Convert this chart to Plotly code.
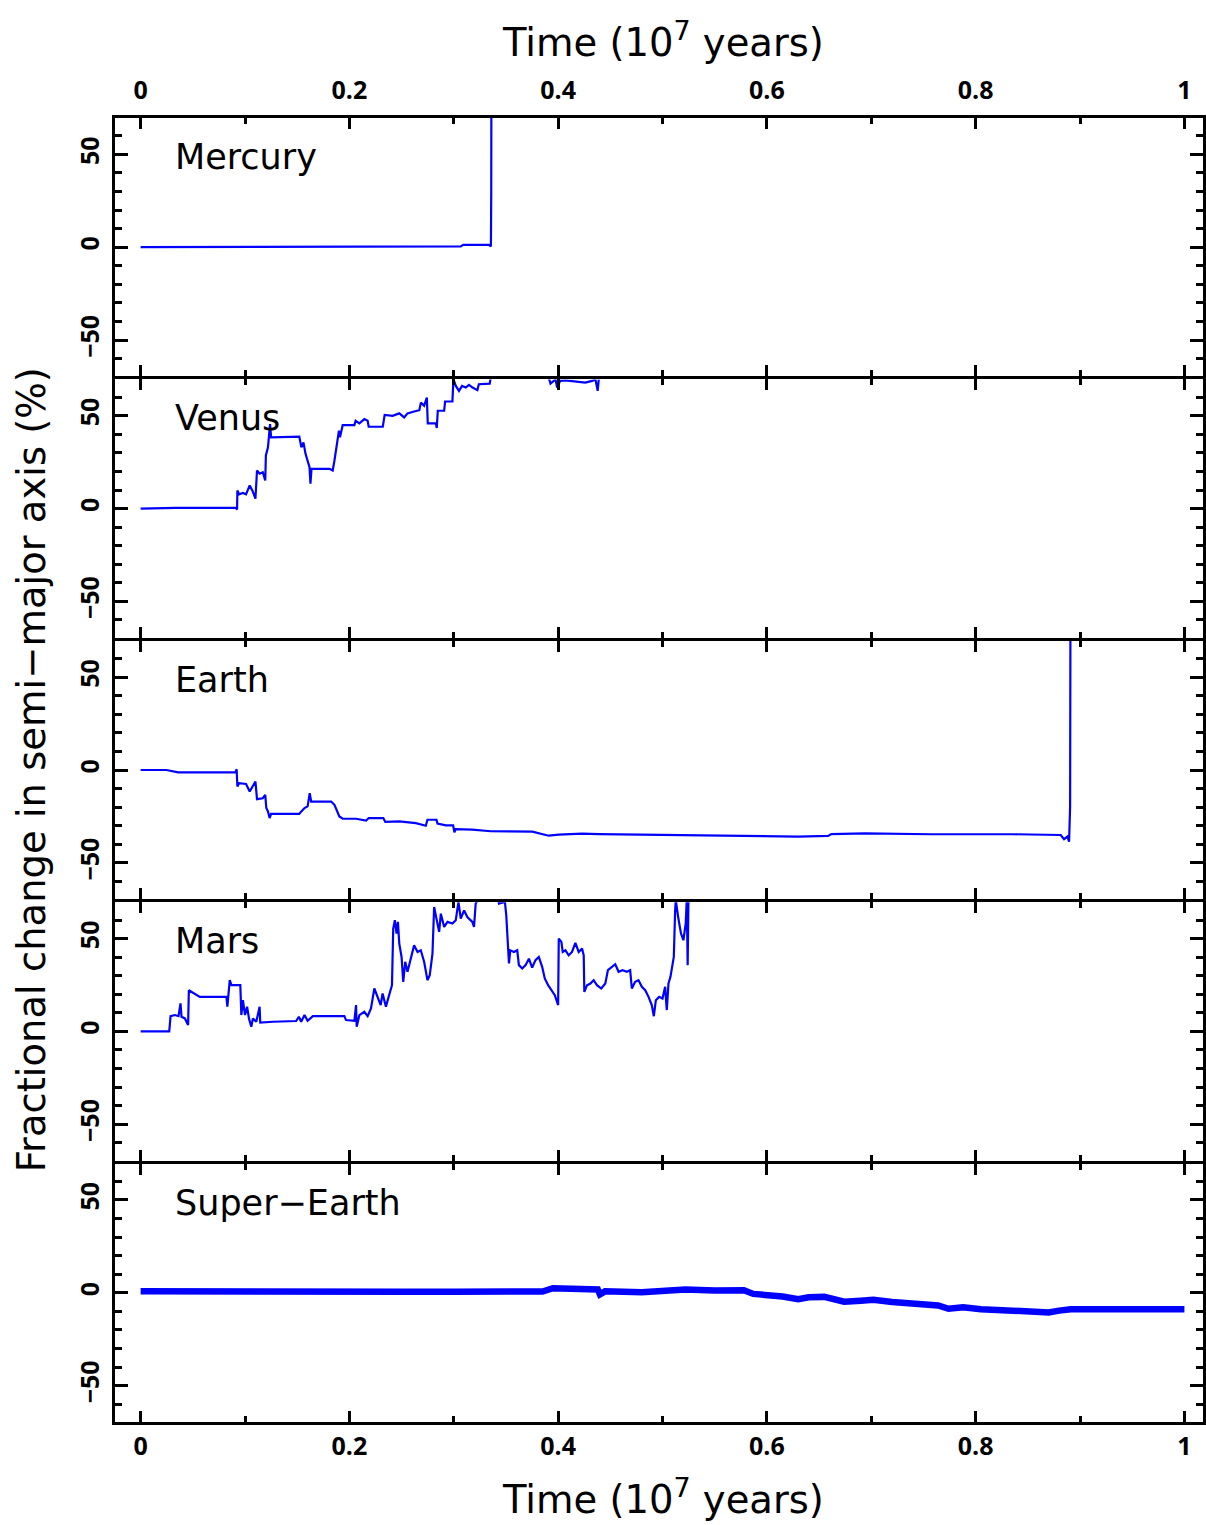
import plotly.graph_objects as go

# ---------------- data (time in 1e7 yr, change in %) ----------------
mercury_t = [0, 0.184, 0.305, 0.3067, 0.309, 0.3338, 0.3354, 0.3356, 0.3359, 0.3362]
mercury_a = [0, 0, 0.4, 0.4, 1.25, 1.25, 0.4, 1.25, 30, 150]

venus_t = [0, 0.034, 0.091, 0.0924, 0.0927, 0.0943, 0.098, 0.101, 0.1045, 0.107, 0.110,
           0.1115, 0.114, 0.117, 0.1194, 0.120, 0.122, 0.123, 0.124, 0.125, 0.1395, 0.152,
           0.154, 0.156, 0.158, 0.160, 0.1618, 0.1627, 0.1637, 0.181, 0.184, 0.1857, 0.188,
           0.190, 0.191, 0.1936, 0.2048, 0.206, 0.2096, 0.2143, 0.2175, 0.2185, 0.232,
           0.2338, 0.2414, 0.2478, 0.2525, 0.2557, 0.262, 0.267, 0.2685, 0.2716, 0.2742,
           0.2751, 0.2828, 0.2837, 0.2847, 0.2908, 0.2917, 0.2987, 0.2997, 0.302, 0.305,
           0.308, 0.3115, 0.3146, 0.318, 0.3226, 0.324, 0.3344, 0.3354, 0.34, 0.38, 0.3885,
           0.3927, 0.3975, 0.399, 0.402, 0.407, 0.4134, 0.4197, 0.426, 0.4325, 0.4357,
           0.4379, 0.4389]
venus_a = [0, 0.4, 0.4, -0.5, 9.8, 7.7, 8.4, 7.7, 12.5, 9.8, 5.4,
           20.5, 18.8, 19.6, 15.2, 28.6, 33, 39.3, 45.5, 38.4, 38.4, 38.8,
           33, 35.7, 29.5, 25.9, 22.3, 13.4, 21.4, 21.4, 20.5, 25.9, 35.7,
           42, 38.4, 45, 45, 47.3, 45.9, 48.2, 47.3, 44.1, 44.1,
           50.5, 50, 51.3, 49.1, 51.3, 52.3, 53, 57.1, 55.4, 59.8,
           45.9, 45.9, 43.4, 52.7, 52.7, 57.7, 57.7, 69.6, 66.1, 63.4,
           66.1, 65.2, 66.6, 65.2, 63.8, 67, 67.3, 70.5, 80, 85, 75,
           67.3, 69.6, 65.2, 68.8, 69.1, 68.8, 68.4, 67.9, 68.8, 69.6,
           63.4, 69.6]

earth_t = [0, 0.0248, 0.036, 0.091, 0.092, 0.0927, 0.0943, 0.101, 0.1045, 0.1076, 0.110,
           0.1115, 0.117, 0.1194, 0.1204, 0.122, 0.1236, 0.125, 0.1395, 0.152, 0.154, 0.157,
           0.160, 0.162, 0.1634, 0.1825, 0.1857, 0.188, 0.1904, 0.1936, 0.2064, 0.216,
           0.2185, 0.2325, 0.2344, 0.2478, 0.2637, 0.2732, 0.2748, 0.2834, 0.2844, 0.2924,
           0.2994, 0.3006, 0.3019, 0.3178, 0.3354, 0.3752, 0.391, 0.4006, 0.423, 0.4389,
           0.630, 0.6586, 0.6618, 0.6936, 0.7573, 0.836, 0.8815, 0.8847, 0.8879, 0.8895,
           0.8905, 0.891]
earth_a = [0, 0, -1.25, -1.1, 0.4, -8.9, -7.1, -7.5, -11.6, -8.9, -6.25,
           -15.7, -15.2, -13.4, -20.5, -22.3, -25.9, -23.6, -23.6, -23.6, -22.3, -20.5,
           -19.6, -12.5, -17, -17, -18.75, -22.3, -25, -26.25, -26.25, -27.3,
           -25.9, -25.9, -27.9, -27.7, -28.6, -30, -26.8, -26.8, -28.9, -29.8,
           -29.8, -33.6, -31.8, -32.1, -33, -33.2, -35.4, -34.8, -34.3, -34.5,
           -35.9, -35.5, -34.5, -34.1, -34.6, -34.6, -35, -37.3, -35.9, -38.6,
           -19.7, 150]

mars_t = [0, 0.0274, 0.0287, 0.0328, 0.0363, 0.0382, 0.0392, 0.0424, 0.0455, 0.0462, 0.0567,
          0.0822, 0.0831, 0.0841, 0.0854, 0.087, 0.0955, 0.0965, 0.098, 0.100, 0.102, 0.1038,
          0.106, 0.1076, 0.1108, 0.114, 0.1146, 0.1268, 0.149, 0.1516, 0.1538, 0.157, 0.160,
          0.165, 0.1952, 0.1968, 0.2048, 0.2064, 0.207, 0.2096, 0.2143, 0.2175, 0.2207,
          0.2239, 0.227, 0.230, 0.2318, 0.235, 0.2376, 0.2408, 0.242, 0.2436, 0.2452, 0.2465,
          0.2478, 0.25, 0.2516, 0.2535, 0.2557, 0.2589, 0.262, 0.2653, 0.2684, 0.2716, 0.2748,
          0.277, 0.2796, 0.2812, 0.2834, 0.286, 0.2876, 0.2908, 0.294, 0.2987, 0.3019, 0.3045,
          0.3067, 0.3099, 0.313, 0.3178, 0.3194, 0.321, 0.3226, 0.33, 0.338, 0.3415, 0.3433,
          0.349, 0.3503, 0.3516, 0.3529, 0.3541, 0.3576, 0.3608, 0.3624, 0.3656, 0.3688, 0.372,
          0.3751, 0.3783, 0.3815, 0.3847, 0.3872, 0.3904, 0.3936, 0.3968, 0.4, 0.4006, 0.4031,
          0.4044, 0.4070, 0.4101, 0.4133, 0.4165, 0.4197, 0.4229, 0.4245, 0.4251, 0.4277,
          0.4309, 0.434, 0.4372, 0.4413, 0.4452, 0.4477, 0.4515, 0.4547, 0.4579, 0.4617,
          0.4659, 0.469, 0.4706, 0.4738, 0.477, 0.4802, 0.4834, 0.4866, 0.4897, 0.4917,
          0.4936, 0.4968, 0.5, 0.5025, 0.5041, 0.5057, 0.5076, 0.5095, 0.5108, 0.5121, 0.5127,
          0.5152, 0.5177, 0.52, 0.5222, 0.5232, 0.5241, 0.5248, 0.525]
mars_a = [0, 0, 8.2, 8.8, 8.2, 15.1, 7.9, 7, 3.4, 22.2, 18.6,
          18.6, 13.3, 22.2, 27.6, 24.9, 24.9, 8.8, 16.8, 8.8, 13.3, 7,
          2.5, 7, 5.2, 13.3, 4.7, 5.2, 5.6, 7.9, 5.2, 8.8, 5.7,
          8.2, 8.2, 6.1, 5.7, 14.2, 2.5, 8.8, 10.6, 8.2, 12.4,
          23.1, 18.6, 14.2, 20.4, 13.3, 18.6, 24.9, 55.4, 59.9, 52.7, 59,
          47.3, 40.1, 26.7, 37.5, 32.1, 40.1, 46.4, 42.8, 43.7, 37.5, 27.6,
          30.3, 41.9, 67, 61.6, 53.6, 63.4, 56.3, 59, 58.1, 59.9, 69.7,
          60.8, 65.2, 61.6, 59, 56.3, 68.8, 70.6, 80, 82, 75, 68.8,
          69.7, 62.5, 47.3, 36.6, 43.7, 42.8, 43.7, 35.7, 33.9, 35.7, 39.2,
          34.4, 38.4, 40.1, 34.8, 28.5, 24.9, 22.2, 19.5, 14.2, 50, 48.2,
          42.8, 43.7, 41, 42.8, 47.7, 42.8, 44.6, 41, 21.3, 24.9,
          25.8, 27.6, 24.9, 23.1, 25.8, 33, 34.8, 36.2, 32.1, 33,
          32.1, 33, 23.1, 26.7, 27.6, 24, 22.2, 18.6, 14.2, 8.2,
          16.8, 18.6, 17.7, 24, 11.5, 25.8, 29.4, 36.6, 40.1, 65.2, 70.6,
          60.8, 52.7, 49.1, 58.1, 70.6, 35.7, 70.6, 150]

superearth_t = [0, 0.05, 0.1, 0.15, 0.2, 0.25, 0.3, 0.35, 0.385, 0.395, 0.41, 0.43, 0.438,
                0.44, 0.445, 0.48, 0.5, 0.522, 0.55, 0.578, 0.587, 0.6, 0.615, 0.63, 0.64,
                0.655, 0.674, 0.69, 0.702, 0.72, 0.736, 0.75, 0.764, 0.774, 0.788, 0.805,
                0.822, 0.84, 0.856, 0.87, 0.88, 0.891, 0.92, 0.95, 0.98, 1.0]
superearth_a = [0.8, 0.6, 0.8, 0.5, 0.7, 0.6, 0.6, 0.4, 0.7, 2.5, 2.3, 2.0, 1.8,
                -0.8, 0.8, 0.3, 0.6, 1.8, 1.2, 1.4, -0.6, -1.2, -2.0, -3.5, -2.4,
                -2.2, -4.8, -4.3, -3.8, -4.9, -5.5, -6.0, -6.8, -8.6, -7.8, -8.8,
                -9.2, -9.8, -10.1, -10.6, -9.6, -8.9, -8.8, -8.9, -8.8, -8.9]

panel_names = ["Mercury", "Venus", "Earth", "Mars", "Super\u2212Earth"]
series_t = [mercury_t, venus_t, earth_t, mars_t, superearth_t]
series_a = [mercury_a, venus_a, earth_a, mars_a, superearth_a]
line_widths = [2.2, 2.2, 2.2, 2.2, 6.5]

x_range = [-0.02455, 1.0178]
y_range = [-69.6, 69.6]
x_title = "Time (10<sup>7</sup> years)"
y_title = "Fractional change in semi\u2212major axis (%)"

TXT_FONT = "DejaVu Sans"
TICK_FONT = "Open Sans"
BLUE = "#0000ff"
LW = 3

W, H = 1206, 1525
M_L, M_R, M_T, M_B = 115, 0, 118, 103
plot_h = H - M_T - M_B
plot_w = W - M_L - M_R

fig = go.Figure()
n = len(panel_names)
for i in range(n):
    k = "" if i == 0 else str(i + 1)
    fig.add_trace(go.Scatter(x=series_t[i], y=series_a[i], mode="lines",
                             line=dict(color=BLUE, width=line_widths[i]),
                             xaxis="x" + k, yaxis="y" + k, showlegend=False))

gap = LW / plot_h
ph = (1 - (n - 1) * gap) / n

layout = dict(width=W, height=H, paper_bgcolor="white", plot_bgcolor="white",
              margin=dict(l=M_L, r=M_R, t=M_T, b=M_B, pad=0), showlegend=False,
              font=dict(family=TXT_FONT, color="black"))
tickfont = dict(family=TICK_FONT, size=25, weight="bold", color="black")
for i in range(n):
    k = "" if i == 0 else str(i + 1)
    top = 1 - i * (ph + gap)
    bot = max(0, top - ph)
    xa = dict(domain=[0, 1], anchor="y" + k, range=x_range, tick0=0, dtick=0.2,
              ticks="inside", ticklen=11, tickwidth=2.5, tickcolor="black",
              minor=dict(ticks="inside", dtick=0.1, ticklen=6, tickwidth=2.5, tickcolor="black"),
              showline=True, linewidth=LW, linecolor="black", mirror="ticks",
              showgrid=False, zeroline=False, tickfont=tickfont,
              showticklabels=(i == 0 or i == n - 1))
    if i == 0:
        xa.update(side="top", ticklabelstandoff=6)
    if i == n - 1:
        xa.update(side="bottom")
    ya = dict(domain=[bot, top], anchor="x" + k, range=y_range, tick0=0, dtick=50,
              ticks="inside", ticklen=13, tickwidth=2.5, tickcolor="black",
              minor=dict(ticks="inside", dtick=10, ticklen=7, tickwidth=2.5, tickcolor="black"),
              showline=True, linewidth=LW, linecolor="black", mirror="ticks",
              showgrid=False, zeroline=False, tickangle=-90, ticklabelstandoff=3,
              tickfont=tickfont)
    layout["xaxis" + k] = xa
    layout["yaxis" + k] = ya

annotations = []
for i in range(n):
    k = "" if i == 0 else str(i + 1)
    annotations.append(dict(text=panel_names[i], xref="x" + k + " domain", yref="y" + k + " domain",
                            x=0.053, y=0.849, xanchor="left", yanchor="middle", showarrow=False,
                            font=dict(family=TXT_FONT, size=35, color="black")))
# axis titles (top, bottom, left)
title_font = dict(family=TXT_FONT, size=38.5, color="black")
x_center = (665 - M_L) / plot_w
annotations.append(dict(text=x_title, xref="paper", yref="paper", x=x_center,
                        y=1 + (M_T - 40) / plot_h, xanchor="center", yanchor="middle",
                        showarrow=False, font=title_font))
annotations.append(dict(text=x_title, xref="paper", yref="paper", x=x_center,
                        y=-(1497 - (H - M_B)) / plot_h, xanchor="center", yanchor="middle",
                        showarrow=False, font=title_font))
annotations.append(dict(text=y_title, xref="paper", yref="paper", x=-(M_L - 31) / plot_w, y=0.5,
                        xanchor="center", yanchor="middle", textangle=-90, showarrow=False,
                        font=title_font))
layout["annotations"] = annotations
fig.update_layout(**layout)
fig.write_html("out.html")
